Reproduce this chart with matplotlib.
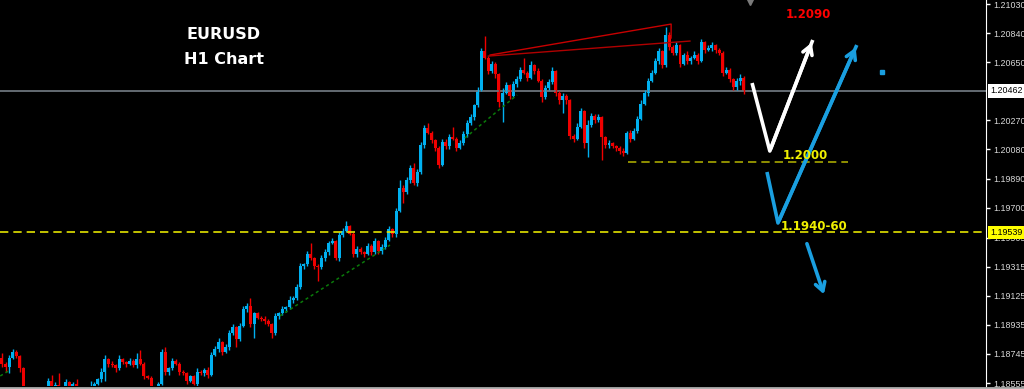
import numpy as np
import matplotlib
matplotlib.use("Agg")
from matplotlib import pyplot as plt
from matplotlib import transforms

# EURUSD H1 closes (open = previous close)
first_open = 1.1872
closes = [
    1.1868, 1.1866, 1.1872, 1.1876, 1.1873, 1.1865, 1.1850, 1.1847, 1.1845, 1.1846,
    1.1844, 1.1846, 1.1849, 1.1857, 1.1851, 1.1854, 1.1849, 1.1848, 1.1856, 1.1851,
    1.1855, 1.1851, 1.1850, 1.1849, 1.1850, 1.1851, 1.1855, 1.1858, 1.1863, 1.1871,
    1.1868, 1.1867, 1.1865, 1.1871, 1.1869, 1.1868, 1.1870, 1.1867, 1.1871, 1.1868,
    1.1860, 1.1859, 1.1851, 1.1849, 1.1855, 1.1876, 1.1863, 1.1865, 1.1870, 1.1868,
    1.1863, 1.1862, 1.1857, 1.1860, 1.1855, 1.1863, 1.1862, 1.1864, 1.1861, 1.1874,
    1.1878, 1.1882, 1.1876, 1.1879, 1.1888, 1.1892, 1.1884, 1.1893, 1.1904, 1.1906,
    1.1894, 1.1901, 1.1898, 1.1897, 1.1896, 1.1894, 1.1888, 1.1899, 1.1901, 1.1904,
    1.1905, 1.1910, 1.1911, 1.1918, 1.1932, 1.1933, 1.1940, 1.1937, 1.1932, 1.1931,
    1.1937, 1.1941, 1.1947, 1.1948, 1.1937, 1.1952, 1.1955, 1.1958, 1.1953, 1.1940,
    1.1943, 1.1941, 1.1940, 1.1945, 1.1941, 1.1948, 1.1942, 1.1944, 1.1949, 1.1956,
    1.1953, 1.1968, 1.1983, 1.1980, 1.1988, 1.1996, 1.1986, 1.1993, 1.2011, 1.2022,
    1.2019, 1.2014, 1.2009, 1.1998, 1.2013, 1.2010, 1.2016, 1.2015, 1.2009, 1.2012,
    1.2018, 1.2025, 1.2029, 1.2037, 1.2047, 1.2072, 1.2068, 1.2059, 1.2064, 1.2057,
    1.2039, 1.2045, 1.2050, 1.2043, 1.2051, 1.2054, 1.2060, 1.2058, 1.2055, 1.2063,
    1.2059, 1.2053, 1.2042, 1.2048, 1.2052, 1.2059, 1.2045, 1.2040, 1.2043, 1.2040,
    1.2017, 1.2015, 1.2023, 1.2033, 1.2012, 1.2024, 1.2030, 1.2027, 1.2029, 1.2016,
    1.2011, 1.2012, 1.2010, 1.2009, 1.2007, 1.2006, 1.2019, 1.2015, 1.2020, 1.2028,
    1.2038, 1.2045, 1.2053, 1.2058, 1.2066, 1.2072, 1.2063, 1.2083, 1.2075, 1.2071,
    1.2076, 1.2064, 1.2070, 1.2066, 1.2068, 1.2070, 1.2066, 1.2078, 1.2073, 1.2074,
    1.2076, 1.2073, 1.2071, 1.2058, 1.2060, 1.2054, 1.2049, 1.2053, 1.2055, 1.2046,
]
# wick sizes in pips above / below the body
wick_up = [
    3, 1, 2, 2, 1, 1, 1, 1, 1, 1,   1, 1, 1, 2, 4, 2, 8, 1, 2, 1,
    1, 3, 1, 1, 1, 6, 1, 1, 2, 3,   1, 2, 1, 3, 1, 1, 2, 1, 4, 6,
    1, 1, 1, 1, 1, 2, 3, 1, 2, 1,   1, 1, 1, 1, 1, 2, 1, 1, 2, 2,
    2, 3, 1, 2, 2, 2, 1, 2, 2, 2,   5, 1, 1, 1, 2, 1, 1, 2, 1, 2,
    1, 2, 1, 2, 2, 1, 2, 7, 1, 1,   2, 2, 1, 2, 1, 2, 2, 3, 1, 1,
    2, 1, 1, 2, 1, 2, 1, 2, 2, 2,   1, 2, 5, 2, 2, 2, 3, 2, 2, 2,
    3, 1, 1, 1, 2, 2, 2, 7, 1, 2,   2, 2, 2, 1, 2, 2, 10, 1, 2, 1,
    1, 3, 2, 1, 2, 2, 2, 8, 1, 3,   1, 2, 1, 2, 2, 3, 1, 1, 2, 1,
    1, 1, 2, 2, 1, 3, 2, 1, 2, 1,   1, 2, 1, 1, 1, 2, 1, 2, 2, 2,
    2, 2, 2, 2, 2, 2, 1, 5, 2, 1,   2, 1, 1, 2, 1, 2, 1, 2, 1, 2,
    2, 1, 1, 1, 2, 1, 1, 2, 2, 1,
]
wick_dn = [
    2, 3, 4, 1, 1, 2, 1, 1, 1, 1,   1, 1, 1, 1, 1, 1, 1, 1, 1, 1,
    1, 1, 1, 1, 1, 1, 1, 1, 2, 6,   2, 1, 2, 1, 1, 2, 1, 1, 2, 1,
    2, 1, 1, 1, 1, 1, 2, 2, 1, 1,   2, 1, 2, 1, 1, 2, 1, 2, 2, 1,
    1, 2, 2, 1, 2, 1, 5, 1, 1, 2,   2, 9, 1, 1, 2, 1, 3, 1, 2, 1,
    2, 1, 2, 1, 1, 2, 1, 1, 2, 9,   1, 2, 2, 1, 1, 2, 1, 1, 1, 2,
    2, 1, 2, 1, 2, 1, 2, 2, 1, 1,   2, 2, 1, 7, 1, 2, 1, 2, 1, 2,
    1, 2, 2, 2, 1, 2, 2, 1, 2, 1,   1, 2, 1, 2, 1, 1, 1, 2, 1, 2,
    3, 13, 1, 2, 1, 2, 1, 1, 2, 1,  2, 1, 3, 1, 1, 1, 2, 2, 8, 2,
    2, 2, 1, 1, 3, 9, 1, 2, 1, 15,  2, 2, 1, 2, 2, 2, 1, 2, 1, 1,
    1, 1, 2, 1, 1, 2, 2, 1, 2, 1,   1, 2, 1, 2, 2, 1, 2, 1, 2, 1,
    2, 2, 1, 2, 1, 2, 2, 2, 3, 2,
]

# right price scale
tick_prices = [1.21030, 1.20840, 1.20650, 1.20270, 1.20080, 1.19890,
               1.19700, 1.19505, 1.19315, 1.19125, 1.18935, 1.18745, 1.18555]
tick_labels = ["1.21030", "1.20840", "1.20650", "1.20270", "1.20080", "1.19890",
               "1.19700", "1.19505", "1.19315", "1.19125", "1.18935", "1.18745", "1.18555"]
bid_price = 1.20462
level_price = 1.19539
level_2000 = 1.2000

# drawn objects (bar index, price)
red_top_x, red_top_y = [137.5, 188.5, 188.5], [1.20697, 1.20899, 1.20808]
red_low_x, red_low_y = [137.0, 193.8], [1.20690, 1.20788]
green1_x, green1_y = [78.3, 109.3], [1.18993, 1.19456]
green2_x, green2_y = [130.4, 145.1], [1.20155, 1.20436]
green3_x, green3_y = [-0.5, 2.3], [1.18601, 1.18640]
white_x, white_y = [211.3, 216.3, 228.4], [1.20514, 1.20070, 1.20795]
blue1_x, blue1_y = [215.5, 218.6, 240.8], [1.19933, 1.19600, 1.20762]
blue2_x, blue2_y = [226.5, 231.8], [1.19482, 1.19117]

bull = "#00b0f0"
bear = "#f00000"

closes = np.array(closes)
opens = np.r_[first_open, closes[:-1]]
idx = np.arange(len(closes))
up = closes >= opens
tops = np.maximum(opens, closes)
bots = np.minimum(opens, closes)
highs = tops + np.array(wick_up) / 10000
lows = bots - np.array(wick_dn) / 10000
colors = np.where(up, bull, bear)

fig = plt.figure(figsize=(10.24, 3.89), dpi=100, facecolor="black")
ax = fig.add_axes([0, 3 / 389, 986 / 1024, 386 / 389])
ax.set_facecolor("black")
ax.set_xlim(-0.56, 277.2)
ax.set_ylim(1.21030 - 382 * 0.0000653, 1.21030 + 4 * 0.0000653)

ax.vlines(idx, lows, highs, colors=colors, lw=1)
ax.bar(idx, np.maximum(tops - bots, 0.00003), bottom=bots, width=0.84,
       color=colors, linewidth=0)

# horizontal lines
ax.axhline(bid_price, color="#6c747c", lw=1.3, zorder=1)
ax.axhline(level_price, color="#e4e400", lw=1.2, dashes=(5, 3))
ax.plot([176.3, 238.3], [level_2000, level_2000], color="#a8a800", lw=1.2, dashes=(5, 3))

# trend lines
ax.plot(red_top_x, red_top_y, color="#c80000", lw=1)
ax.plot(red_low_x, red_low_y, color="#b00000", lw=1)
for gx, gy in [(green1_x, green1_y), (green2_x, green2_y), (green3_x, green3_y)]:
    ax.plot(gx, gy, color="#0a7a0a", lw=1.1, dashes=(2, 2))

# scenario arrows
ax.plot(white_x, white_y, color="white", lw=2.6, solid_capstyle="butt")
ax.annotate("", xy=(white_x[-1], white_y[-1]), xytext=(white_x[-2], white_y[-2]),
            arrowprops=dict(arrowstyle="->,head_length=0.6,head_width=0.35", color="white", lw=2.6))
ax.plot(blue1_x, blue1_y, color="#1a9fe0", lw=2.6, solid_capstyle="butt")
ax.annotate("", xy=(blue1_x[-1], blue1_y[-1]), xytext=(blue1_x[-2], blue1_y[-2]),
            arrowprops=dict(arrowstyle="->,head_length=0.6,head_width=0.35", color="#1a9fe0", lw=2.6))
ax.annotate("", xy=(blue2_x[-1], blue2_y[-1]), xytext=(blue2_x[0], blue2_y[0]),
            arrowprops=dict(arrowstyle="->,head_length=0.6,head_width=0.35", color="#1a9fe0", lw=2.6))
ax.plot([247.9], [1.20586], marker="s", ms=2.5, color="#1a9fe0", lw=0)
ax.plot([210.7], [1.21050], marker="v", ms=6, color="#7a7a7a", lw=0, clip_on=False)

# texts
ax.text(62.5, 1.20832, "EURUSD", color="white", fontsize=11.5, fontweight="bold",
        ha="center", va="center")
ax.text(62.5, 1.20665, "H1 Chart", color="white", fontsize=11.5, fontweight="bold",
        ha="center", va="center")
ax.text(227.3, 1.20963, "1.2090", color="#ff0000", fontsize=8.5, fontweight="bold",
        ha="center", va="center")
ax.text(226.3, 1.20043, "1.2000", color="#f0f000", fontsize=8.5, fontweight="bold",
        ha="center", va="center")
ax.text(228.7, 1.19578, "1.1940-60", color="#f0f000", fontsize=8.5, fontweight="bold",
        ha="center", va="center")

# price axis on the right
for s in ["top", "left", "bottom"]:
    ax.spines[s].set_visible(False)
ax.spines["right"].set_color("white")
ax.set_xticks([])
ax.yaxis.tick_right()
ax.set_yticks(tick_prices)
ax.set_yticklabels(tick_labels)
ax.tick_params(axis="y", colors="white", labelcolor="#d8d8d8", length=3, width=1,
               labelsize=6.4, pad=2)
for lab in ax.get_yticklabels():
    lab.set_fontfamily("Liberation Sans")

tr = transforms.blended_transform_factory(ax.transAxes, ax.transData)
ax.text(1.004, bid_price, "1.20462", transform=tr, fontsize=6.4, family="Liberation Sans",
        color="black", va="center", ha="left",
        bbox=dict(boxstyle="square,pad=0.25", fc="white", ec="none"), clip_on=False)
ax.text(1.004, level_price, "1.19539", transform=tr, fontsize=6.4, family="Liberation Sans",
        color="black", va="center", ha="left",
        bbox=dict(boxstyle="square,pad=0.25", fc="#ffff00", ec="none"), clip_on=False)

# grey bottom border
fig.add_artist(plt.Line2D([0, 1], [1.5 / 389, 1.5 / 389], color="#b0b0b0", lw=2))

fig.savefig("out.png", dpi=100, facecolor="black")
